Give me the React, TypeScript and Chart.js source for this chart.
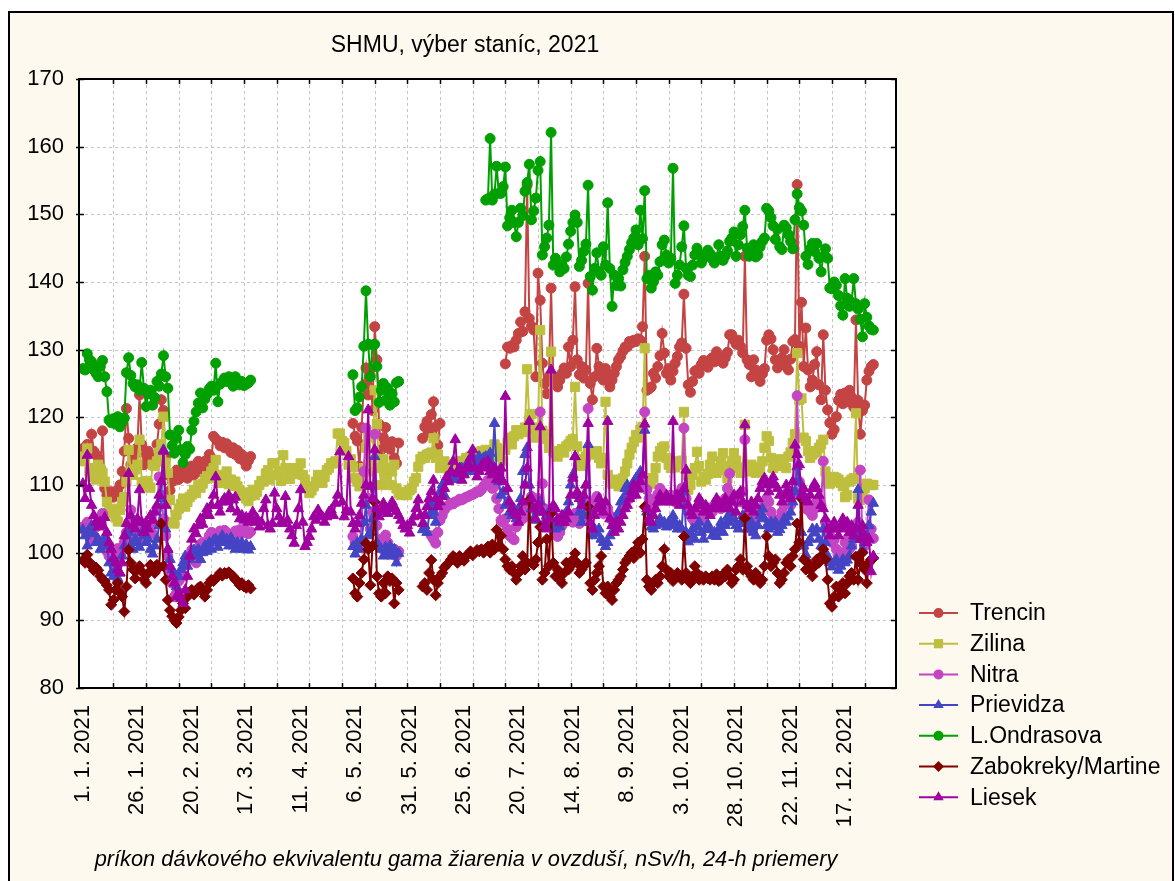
import React, { useEffect, useRef } from 'react';
import { Chart, registerables } from 'chart.js';

Chart.register(...registerables);

const FONT = '"Liberation Sans", Arial, sans-serif';
const CREAM = '#fdf9ee';

const titleText = 'SHMU, výber staníc, 2021';
const axisTitle = 'príkon dávkového ekvivalentu gama žiarenia v ovzduší, nSv/h, 24-h priemery';

const seriesNames = ['Trencin', 'Zilina', 'Nitra', 'Prievidza', 'L.Ondrasova', 'Zabokreky/Martine', 'Liesek'];
const seriesColors = ['#c44444', '#bfbf3f', '#c444c4', '#4444c4', '#00a000', '#800000', '#a000a0'];
const seriesMarkers = ['circle', 'rect', 'circle', 'triangle', 'circle', 'rectRot', 'triangle'];
const seriesRadius = [5, 6.5, 5, 6, 5, 5.5, 6];

// x values are day-of-year offsets from 1. 1. 2021
const labelDays = [0, 25, 50, 75, 100, 125, 150, 175, 200, 225, 250, 275, 300, 325, 350];
const gridDays = [14, 29, 44, 59, 74, 89, 104, 119, 134, 149, 164, 179, 194, 209, 224, 239, 254, 269, 284, 299, 314, 329, 344, 359];
const yTicks = [80, 90, 100, 110, 120, 130, 140, 150, 160, 170];

// ---------- Trencin ----------
const trencinJan = [115.4,114.0,116.0,115.0,117.5,115.0,114.5,114.0,112.5,118.0,109.5,108.5,108.8,109.0,108.2,108.7,109.3,110.0,112.0,115.0,121.3,116.9,113.0,114.0,114.5,115.5,123.3,116.0,113.0,114.5,115.0,113.5,114.0,113.0,116.0,119.0,122.6,121.0,114.0,111.5,109.2,110.5,111.0,112.2,110.8,111.2,111.5,112.0,111.0,112.0,112.8,111.5,112.3,113.5,112.0,112.3,113.5,113.0,114.5,114.0,117.2,116.8,116.5,115.8,116.3,115.5,116.1,115.3,114.8,115.5,114.5,115.1,113.9,114.5,113.5,112.8,113.6,114.2];
const trencinMay = [119.1,117.2,116.5,112.8,118.5,124.8,127.3,123.3,127.1,121.0,133.4,128.5,119.0,115.2,117.0,118.5,116.0,115.3,116.4,114.0,113.2,116.2];
const trencinJun = [116.9,118.6,119.4,117.8,120.4,122.3,118.6,115.9,119.1];
const trencinJul = [127.9,130.4,130.2,130.6,130.4,131.4,132.4,134.1,132.7,135.6,154.3,134.6,133.5,132.9,126.0,141.3,137.3,128.0,125.0,123.5,126.0,139.1,126.0,125.5,124.5,125.5,126.5,127.3,126.5,130.4,127.5,131.4,139.3,128.5,126.3,127.5,125.8,127.0,139.8,125.0,122.6,126.0,130.2,127.5,126.8,125.5,127.2,126.3,124.5,125.5,126.5,127.5,128.5,129.0,129.8,130.4,130.4,131.2,131.0,131.4,131.2,131.6,131.4,133.4,143.8,124.0,124.2,124.5,126.5,125.8,127.5,129.1,132.4,129.5,126.5,127.2,125.5,126.8,128.0,129.0,130.4,131.0,138.2,130.2,124.8,123.7,125.3,126.8,127.0,126.5,127.8,128.4,127.6,127.4,128.5,128.8,128.2,129.7,129.0,128.3,128.0,128.8,129.6,132.2,132.2,131.4,130.8,131.4,130.5,129.5,143.8,128.5,127.8,126.0,128.5,127.0,126.0,125.3,126.4,127.2,131.4,132.2,131.6,130.0,128.5,127.3,127.8,128.8,130.0,127.5,127.0,128.6,131.2,131.5,154.4,130.5,137.0,127.5,133.2,127.0,124.5,125.5,127.8,129.7,124.8,122.6,132.2,124.0,121.1,119.2,117.5,118.2,120.1,122.5,123.4,122.0,123.6,122.3,124.0,123.0,121.5,134.4,122.5,117.5,121.0,121.8,125.5,126.8,127.5,127.8];

// ---------- Zilina ----------
const zilinaYear = [
114.2,113.5,115.4,112.0,111.2,112.5,110.8,113.0,112.4,111.8,110.5,
107.5,106.0,105.8,106.5,105.2,104.6,106.3,107.5,108.2,110.5,
115.2,112.0,111.5,112.3,113.0,116.7,110.4,109.8,110.6,110.2,
109.6,113.0,112.8,113.5,114.8,116.0,120.1,113.3,111.8,107.8,
104.5,104.3,105.6,106.5,107.2,108.0,106.8,107.5,108.2,108.6,
109.3,108.8,110.0,109.6,110.2,110.9,111.3,111.0,112.0,112.5,
113.7,111.5,110.8,110.3,110.9,112.0,110.1,110.8,109.9,110.5,
109.8,109.2,108.6,108.9,108.0,107.6,108.4,109.3,108.5,109.0,
110.0,110.6,110.5,111.7,112.2,110.8,113.2,113.2,111.5,112.0,
110.6,114.4,112.5,111.2,110.9,111.7,112.5,111.6,112.0,113.2,
111.5,110.8,109.6,108.8,109.2,109.8,110.5,111.5,110.8,110.3,
111.2,112.2,112.5,113.2,113.2,113.5,117.6,117.6,116.5,116.2,
115.0,113.0,113.8,112.6,111.0,110.5,109.8,111.0,112.5,115.5,
117.0,112.0,113.5,124.0,119.0,112.5,110.0,113.8,111.5,112.5,
110.0,112.0,113.0,109.5,108.8,108.5,108.7,109.0,108.5,109.2,
109.5,110.5,111.0,112.7,113.8,114.2,114.0,114.5,114.6,114.8,
116.9,114.0,114.5,112.5,113.0,113.5,112.8,112.2,113.0,112.5,
112.0,113.2,113.5,112.8,113.6,114.0,113.5,114.2,113.8,114.5,
114.0,114.8,115.0,114.2,115.2,114.8,115.0,114.4,116.0,115.5,
114.2,115.2,113.5,115.2,116.3,117.0,116.0,117.2,118.1,117.5,
118.0,117.8,118.5,127.1,119.5,120.5,118.2,117.0,118.5,132.9,
118.0,117.5,116.8,115.5,129.7,115.0,114.7,114.2,115.0,115.3,
114.8,115.7,116.0,116.5,116.8,124.5,115.7,113.5,112.8,113.8,
114.2,115.0,114.5,115.0,114.8,115.0,114.0,113.2,114.0,122.3,
111.5,110.5,110.2,110.8,110.4,109.8,110.0,111.0,112.0,113.2,
114.5,115.5,116.4,117.4,117.0,118.2,118.6,130.2,110.7,111.0,
110.2,111.0,112.5,114.2,115.0,115.5,115.7,114.0,113.0,112.5,
113.0,112.6,113.0,113.5,113.6,120.8,111.5,109.3,110.0,111.5,
112.5,114.9,112.8,110.5,111.2,110.8,111.6,113.0,114.2,112.5,
111.8,112.5,113.5,114.7,112.2,111.0,112.8,113.5,114.7,113.6,
112.5,111.8,112.6,118.9,112.5,112.0,113.0,112.6,111.8,112.0,
112.5,113.5,115.5,117.2,116.5,114.0,112.5,113.0,113.8,112.8,
113.2,113.8,112.5,114.2,114.8,116.2,117.5,129.5,122.6,122.8,
117.0,116.5,115.0,114.0,114.5,115.0,114.8,115.5,116.0,116.7,
112.0,110.8,110.2,110.5,111.2,111.0,110.8,110.3,109.8,108.2,
108.5,110.5,110.8,111.0,120.6,108.0,107.8,108.8,109.5,110.2,110.0,110.0,110.0];

// ---------- Nitra ----------
const nitraJan = [103.8,103.2,104.5,103.0,101.8,102.5,103.8,104.5,105.2,105.8,102.0,100.2,99.5,99.9,98.5,99.2,100.6,99.8,100.2,101.5,103.0,104.5,106.3,103.5,102.2,103.5,104.5,102.0,103.2,102.5,103.8,104.0,102.8,104.2,106.5,111.2,108.5,105.0,102.5,99.5,97.0,95.5,93.5,94.0,95.8,97.0,96.5,98.2,99.0,99.5,100.4,99.0,98.5,100.0,101.2,101.5,100.6,101.0,102.5,103.0,102.2,101.8,102.5,103.2,102.6,103.3,103.0,102.5,102.0,101.5,103.2,102.8,103.4,102.9,103.5,103.0,102.8,103.1];
const nitraMay = [102.4,101.5,100.8,101.0,104.5,112.0,118.4,108.0,103.5,106.0,117.5,104.0,101.0,102.0,100.5,102.6,101.5,100.2,99.8,100.5,99.5,100.2];
const nitraJun = [102.5,102.0,101.4,103.0,104.8,105.5,106.3,106.8,107.0,107.3,107.2,107.5,107.6,107.9,107.8,108.0,108.2,108.3,108.5,108.6,108.8,109.0,109.0,109.3,109.8,110.2,110.7,110.3,109.5,109.8,108.0,106.5,104.8,104.5,105.0,103.5,102.5,102.2,101.9,103.8,104.5,105.5,105.0,105.8,106.5,107.2,108.3,107.0,106.5,108.0,120.8,110.2,106.5,105.0,104.2,106.0,104.5,103.4,102.4,103.0,104.0,104.5,105.0,104.8,105.5,104.5,105.8,104.8,104.3,105.0,106.0,107.0,121.3,107.5,106.0,107.2,108.3,107.5,106.5,105.8,106.0,106.5,105.5,104.8,104.5,105.2,105.5,106.0,106.8,107.5,108.3,108.0,108.5,109.8,109.5,110.0,109.6,110.5,120.8,109.3,108.0,107.0,106.5,107.5,108.6,109.5,109.0,108.5,108.0,107.8,108.5,107.8,107.5,108.2,108.8,109.5,118.4,108.0,106.0,105.5,105.0,104.5,105.5,106.0,105.2,105.0,106.0,106.3,106.6,106.0,107.0,107.5,107.0,106.5,107.5,108.0,109.5,111.7,108.5,108.0,107.5,108.5,107.5,109.0,116.7,107.0,105.5,103.4,104.5,105.5,106.0,105.5,106.5,107.5,108.0,107.5,106.0,105.0,104.8,104.3,105.0,106.0,107.0,107.5,108.0,107.0,108.5,109.0,123.2,110.5,108.5,107.8,106.5,107.2,106.0,105.5,106.5,107.5,108.0,107.0,113.5,104.5,103.0,102.5,101.5,101.9,100.5,99.5,98.4,100.0,101.5,102.0,100.5,101.0,102.5,103.0,104.5,112.2,102.0,101.0,103.5,107.8,103.5,102.1];

// ---------- Prievidza ----------
const prievidzaJan = [103.4,102.5,101.0,103.5,104.0,102.8,101.5,102.0,100.5,101.5,102.0,101.0,98.5,97.0,96.5,97.5,96.2,97.0,99.5,101.0,102.5,103.0,101.0,100.5,102.0,101.5,100.8,103.0,102.5,101.5,102.0,100.5,99.8,101.0,102.0,104.0,108.0,115.2,103.5,100.5,99.0,97.5,96.5,95.0,96.5,97.5,98.5,99.5,98.0,99.0,100.0,100.4,99.5,100.5,99.0,100.0,101.0,100.2,101.5,100.5,101.8,102.0,100.8,101.5,102.5,101.5,102.0,101.0,102.2,101.0,100.5,101.5,100.8,101.5,100.5,101.2,100.4,100.9];
const prievidzaMay = [100.9,99.8,101.5,100.5,102.0,104.5,107.0,102.5,103.0,105.0,114.2,101.5,100.9,100.5,99.5,100.8,99.9,101.0,99.5,100.5,98.5,99.9];
const prievidzaJun = [103.4,104.0,103.0,105.5,107.0,106.0,104.5,107.5,109.0,110.0,108.5,110.5,111.2,112.0,111.5,110.8,112.0,111.5,112.5,111.6,112.8,113.5,112.0,114.2,112.5,113.0,114.2,113.5,114.0,114.2,113.5,114.7,113.0,119.1,112.0,110.5,108.5,109.0,107.0,107.5,106.0,105.5,106.5,105.0,106.5,108.0,112.0,114.5,115.5,110.0,106.5,105.0,104.8,106.0,107.5,106.0,104.5,105.5,106.0,105.0,104.0,103.5,104.5,103.8,104.5,105.5,106.0,107.5,110.0,111.5,114.2,108.5,106.0,104.5,105.5,110.0,116.0,106.0,102.5,103.5,102.8,103.5,102.0,101.5,100.9,101.5,102.5,104.0,103.5,105.0,106.0,107.5,108.0,109.5,110.0,109.0,108.5,110.5,111.0,110.5,112.0,111.5,118.1,106.0,104.5,103.8,103.5,104.0,104.5,105.0,104.2,104.5,103.8,104.5,104.0,105.5,104.5,103.5,104.0,103.5,109.0,103.0,101.6,102.5,103.5,102.0,103.8,104.5,103.0,102.0,103.5,104.2,103.4,102.5,103.0,102.4,103.5,104.5,103.0,104.0,105.3,104.5,106.0,105.0,104.0,103.5,104.3,105.5,104.3,103.5,103.8,104.5,103.0,102.5,104.0,105.5,106.5,105.0,104.0,103.5,104.5,103.8,104.5,103.0,103.4,104.0,105.0,104.5,105.3,106.0,107.5,109.0,112.7,110.5,103.0,101.0,99.7,101.5,102.0,103.5,102.9,103.5,102.0,101.0,103.5,101.5,99.5,98.5,97.9,98.5,99.0,97.4,98.0,99.0,98.5,98.9,99.5,101.0,102.0,103.0,109.3,102.0,100.5,101.5,102.5,104.0,106.0,107.3];

// ---------- L.Ondrasova ----------
const ondrasovaJan = [127.2,127.0,129.4,128.5,128.2,127.0,126.5,126.0,127.5,128.4,126.0,123.8,119.6,119.2,119.8,119.0,120.1,118.6,119.3,119.9,126.6,128.8,126.2,125.0,124.5,124.8,124.0,128.1,124.3,121.6,123.5,124.0,121.8,122.9,125.3,124.6,126.4,129.1,126.0,124.3,117.4,115.8,114.7,116.9,118.1,115.2,113.3,114.5,115.7,115.3,118.1,119.4,120.8,122.1,123.6,121.4,122.7,123.4,124.2,124.6,124.0,128.0,122.3,124.9,125.3,125.8,125.3,126.0,125.1,124.6,126.0,125.4,124.8,125.3,124.7,124.9,125.1,125.5];
const ondrasovaMay = [126.3,121.0,121.4,123.0,124.5,130.5,138.7,130.8,126.0,130.7,130.8,127.5,122.2,124.0,125.0,122.5,124.3,121.8,123.5,122.3,125.1,125.3];
const ondrasovaJul = [152.1,152.3,161.2,152.1,153.0,157.1,153.1,153.1,154.1,157.0,148.3,149.5,150.6,148.8,146.7,148.8,150.9,149.8,153.4,154.7,157.4,149.2,150.5,152.4,156.5,157.8,144.0,145.2,146.5,148.4,162.1,142.5,143.5,142.8,141.5,142.5,142.0,143.7,145.6,147.5,148.8,149.9,148.8,142.3,143.2,144.5,145.6,154.3,140.8,138.8,142.0,144.3,141.5,141.0,145.2,142.5,151.7,142.0,136.4,141.0,139.5,140.5,139.4,141.8,142.9,143.8,144.8,145.8,146.5,147.7,145.5,150.6,146.4,153.5,140.5,141.0,139.1,140.0,141.5,141.0,143.0,145.5,146.2,144.0,142.8,143.5,156.8,139.8,141.0,142.5,145.2,148.3,142.0,141.0,140.8,142.5,144.0,145.0,144.2,142.8,143.5,144.0,144.7,144.2,143.4,142.8,143.6,145.5,143.8,143.2,143.9,144.6,146.0,146.5,147.4,143.8,145.5,147.0,148.2,150.6,145.0,143.8,144.2,145.5,143.7,144.0,145.2,146.0,146.5,150.9,150.5,149.5,148.3,146.3,147.8,145.2,144.8,148.4,148.0,147.0,146.0,144.9,149.2,153.0,151.0,150.5,148.4,143.8,142.6,144.9,145.7,144.5,145.7,143.5,141.5,143.8,144.9,143.5,139.1,139.0,140.0,139.5,138.0,136.5,135.1,140.5,137.6,136.4,137.0,140.5,136.8,136.0,134.5,131.9,136.8,134.8,133.5,133.0,132.9];

// ---------- Zabokreky/Martine ----------
const zabokrekyJan = [98.9,98.5,99.7,98.6,98.0,97.4,97.8,97.4,96.5,96.0,95.8,95.2,94.5,92.3,93.0,94.5,95.5,94.2,93.5,91.3,95.0,100.4,98.5,97.5,96.2,97.5,98.0,97.2,96.0,95.5,97.0,98.2,97.5,97.0,98.2,97.8,104.3,98.0,96.0,93.0,91.5,90.6,90.0,89.6,90.5,91.5,92.5,91.8,93.5,94.0,94.5,93.8,94.2,94.8,95.0,94.3,93.5,94.5,95.5,96.0,95.8,96.2,96.5,97.0,96.6,97.0,96.9,97.1,96.8,96.5,96.0,95.8,95.2,95.5,95.0,94.8,95.2,94.7];
const zabokrekyMay = [96.2,94.0,93.5,95.5,97.0,99.0,101.4,100.5,95.2,101.0,107.5,96.5,94.0,93.5,95.5,94.0,96.5,95.8,96.2,92.5,95.5,94.5];
const zabokrekyJun = [95.0,95.5,94.5,97.0,98.9,96.0,93.7,95.5,96.5,97.0,97.8,98.2,98.5,99.0,99.5,99.2,98.5,99.5,99.0,98.8,99.5,99.8,100.2,99.6,100.0,100.4,100.2,100.5,100.0,100.6,100.9,100.0,101.2,100.5,103.4,101.0,102.5,100.5,99.0,98.0,97.5,98.0,97.0,96.0,97.0,98.0,99.5,97.5,98.5,107.8,98.5,98.2,99.0,101.5,103.8,96.0,97.0,102.0,98.0,105.8,98.5,96.5,97.5,96.0,95.5,97.0,98.5,97.5,98.0,99.0,99.9,98.5,97.0,97.5,98.0,98.5,106.8,95.5,94.5,96.0,97.0,98.0,99.5,95.0,94.0,95.0,93.5,93.0,94.5,95.5,96.0,96.5,97.5,98.5,99.0,99.5,100.0,99.2,100.5,101.5,100.0,102.0,106.8,96.0,95.0,94.5,95.5,96.0,95.5,96.5,98.0,100.5,97.5,96.5,97.0,95.8,96.2,97.0,96.5,96.0,102.4,97.0,96.0,95.5,96.5,98.0,97.0,96.0,96.5,96.0,96.5,96.2,96.0,96.5,96.0,96.8,95.8,96.0,96.8,96.5,97.5,96.5,95.5,96.0,97.5,98.0,99.0,97.5,105.1,98.0,97.0,96.5,96.0,97.0,96.5,95.5,96.0,98.0,102.4,99.5,98.0,98.5,99.0,97.0,95.5,96.0,97.0,98.5,99.0,98.0,99.5,100.5,104.3,101.5,108.0,99.0,97.5,98.5,97.5,96.5,98.0,99.0,98.5,99.5,100.5,99.0,96.0,92.5,92.0,93.5,95.0,93.5,94.5,95.5,94.0,95.5,96.5,97.0,96.0,99.4,96.0,98.5,100.0,97.5,95.5,98.5,99.0,99.2];

// ---------- Liesek ----------
const liesekYear = [
110.2,108.0,114.4,109.5,107.0,105.5,104.5,103.8,104.5,104.0,
105.2,103.0,101.5,100.5,99.2,98.5,97.5,97.0,98.5,102.5,
104.3,111.7,105.5,104.0,103.5,105.0,109.3,104.5,103.0,104.5,
103.5,105.5,104.8,106.0,107.0,108.5,110.5,115.0,107.0,100.5,
98.0,96.5,95.5,93.5,94.0,93.2,92.5,94.5,96.5,99.5,
102.0,103.5,102.8,104.0,105.0,104.2,105.5,106.5,105.5,107.0,
108.5,111.2,107.0,106.0,107.5,108.0,107.5,108.5,106.5,107.8,
108.2,106.0,105.0,105.5,104.8,105.2,104.5,105.0,106.0,104.5,
105.0,103.8,104.5,106.5,107.8,104.0,103.5,104.3,108.8,106.5,
105.3,104.5,104.3,108.3,104.8,103.5,102.5,101.4,104.0,106.5,
109.3,104.5,100.9,101.5,102.4,103.5,105.3,104.8,106.3,105.5,
105.3,104.5,105.3,106.0,106.3,105.5,107.3,108.5,114.9,107.5,
105.3,106.3,114.2,106.0,104.3,103.5,104.3,105.5,107.3,108.5,
110.0,121.1,109.8,108.0,115.2,106.5,105.3,106.0,107.3,106.5,
105.8,106.5,107.5,106.8,106.1,105.5,104.8,104.0,103.5,104.0,
102.9,104.5,105.3,106.5,107.8,105.5,104.3,105.5,106.8,108.0,
109.0,110.7,108.0,106.8,107.5,108.3,109.5,111.2,110.5,112.0,
113.5,116.7,111.7,112.5,110.7,111.5,112.5,113.0,114.0,115.2,
112.5,111.2,112.0,112.8,113.2,112.5,113.5,112.0,111.5,112.5,
110.8,111.5,112.5,110.5,123.1,109.5,107.5,106.5,106.0,105.5,
104.5,106.0,107.5,110.0,112.5,119.4,108.0,106.5,105.0,107.0,
118.6,106.0,104.0,103.5,105.0,127.0,107.0,106.5,105.0,104.5,
105.5,104.5,105.0,106.0,108.5,111.0,114.2,109.0,108.0,107.0,
108.5,110.0,119.1,104.5,103.5,105.5,106.5,108.0,107.0,106.0,
107.5,119.4,105.0,104.0,103.0,104.5,103.5,104.5,105.5,106.5,
107.0,108.0,109.0,110.0,108.5,109.5,110.5,111.5,119.0,106.5,
105.0,104.5,105.5,106.5,107.5,108.5,108.0,107.5,108.5,107.5,
108.0,119.4,107.5,108.5,107.0,108.0,109.5,112.2,107.0,106.0,
105.5,106.5,107.0,108.0,107.5,106.0,107.0,106.5,105.5,106.5,
107.0,108.0,107.5,106.5,107.0,108.0,107.5,106.5,107.5,108.5,
106.0,108.5,109.0,107.5,118.9,107.0,106.5,107.5,106.0,107.0,
108.0,109.5,110.5,111.0,110.0,109.0,110.5,111.2,110.0,109.5,
108.5,107.5,108.5,110.0,109.0,108.0,110.5,115.9,114.5,113.0,
108.5,109.5,108.0,107.5,108.5,109.5,110.2,109.5,108.5,107.0,
106.5,105.0,103.5,102.5,103.5,104.5,103.5,102.5,104.0,105.0,
103.5,104.5,103.0,104.0,102.5,103.5,107.0,102.0,104.0,102.5,101.5,102.0,97.2,99.5];

// segments: [first day, values]
const seriesSegments: [number, number[]][][] = [
  [[0, trencinJan], [124, trencinMay], [156, trencinJun], [194, trencinJul]],
  [[0, zilinaYear]],
  [[0, nitraJan], [124, nitraMay], [160, nitraJun]],
  [[0, prievidzaJan], [124, prievidzaMay], [156, prievidzaJun]],
  [[0, ondrasovaJan], [124, ondrasovaMay], [185, ondrasovaJul]],
  [[0, zabokrekyJan], [124, zabokrekyMay], [156, zabokrekyJun]],
  [[0, liesekYear]],
];

function toPoints(segs: [number, number[]][]) {
  const pts: { x: number; y: number | null }[] = [];
  segs.forEach(([start, vals], si) => {
    if (si > 0) pts.push({ x: start - 0.5, y: null });
    vals.forEach((v, i) => pts.push({ x: start + i, y: v }));
  });
  return pts;
}

function dayLabel(v: number) {
  const d = new Date(Date.UTC(2021, 0, 1 + v));
  return `${d.getUTCDate()}. ${d.getUTCMonth() + 1}. 2021`;
}

function drawMarker(ctx: CanvasRenderingContext2D, kind: string, x: number, y: number, r: number) {
  ctx.beginPath();
  if (kind === 'circle') {
    ctx.arc(x, y, r, 0, Math.PI * 2);
  } else if (kind === 'rect') {
    const s = r * Math.SQRT1_2;
    ctx.rect(x - s, y - s, 2 * s, 2 * s);
  } else if (kind === 'triangle') {
    let a = 0;
    ctx.moveTo(x + Math.sin(a) * r, y - Math.cos(a) * r);
    a += (2 * Math.PI) / 3;
    ctx.lineTo(x + Math.sin(a) * r, y - Math.cos(a) * r);
    a += (2 * Math.PI) / 3;
    ctx.lineTo(x + Math.sin(a) * r, y - Math.cos(a) * r);
    ctx.closePath();
  } else {
    ctx.moveTo(x - r, y);
    ctx.lineTo(x, y - r);
    ctx.lineTo(x + r, y);
    ctx.lineTo(x, y + r);
    ctx.closePath();
  }
  ctx.fill();
}

const decor = {
  id: 'decor',
  beforeDraw(chart: any) {
    const { ctx, chartArea: a, scales } = chart;
    const W = chart.width;
    const H = chart.height;
    ctx.save();
    ctx.fillStyle = '#ffffff';
    ctx.fillRect(0, 0, W, H);
    ctx.fillStyle = '#000000';
    ctx.fillRect(8, 11, 1166, H - 11);
    ctx.fillStyle = CREAM;
    ctx.fillRect(10, 13, 1162, H - 13);
    ctx.fillStyle = '#ffffff';
    ctx.fillRect(a.left, a.top, a.right - a.left, a.bottom - a.top);
    ctx.strokeStyle = '#c4c4c4';
    ctx.lineWidth = 1;
    ctx.setLineDash([3, 3]);
    ctx.beginPath();
    gridDays.forEach((d) => {
      const x = Math.round(scales.x.getPixelForValue(d)) + 0.5;
      ctx.moveTo(x, a.top);
      ctx.lineTo(x, a.bottom);
    });
    yTicks.forEach((v) => {
      const y = Math.round(scales.y.getPixelForValue(v)) + 0.5;
      ctx.moveTo(a.left, y);
      ctx.lineTo(a.right, y);
    });
    ctx.stroke();
    ctx.restore();
  },
  afterDraw(chart: any) {
    const { ctx, chartArea: a, scales } = chart;
    ctx.save();
    ctx.strokeStyle = '#000000';
    ctx.lineWidth = 2;
    ctx.strokeRect(a.left, a.top, a.right - a.left, a.bottom - a.top);
    ctx.lineWidth = 1.5;
    ctx.beginPath();
    gridDays.forEach((d) => {
      const x = Math.round(scales.x.getPixelForValue(d)) + 0.5;
      ctx.moveTo(x, a.top);
      ctx.lineTo(x, a.top + 5);
      ctx.moveTo(x, a.bottom);
      ctx.lineTo(x, a.bottom - 5);
    });
    yTicks.forEach((v) => {
      const y = Math.round(scales.y.getPixelForValue(v)) + 0.5;
      ctx.moveTo(a.left - 3, y);
      ctx.lineTo(a.left + 5, y);
      ctx.moveTo(a.right - 5, y);
      ctx.lineTo(a.right, y);
    });
    ctx.stroke();

    ctx.fillStyle = '#000000';
    ctx.textAlign = 'center';
    ctx.textBaseline = 'alphabetic';
    ctx.font = `23px ${FONT}`;
    ctx.fillText(titleText, 465, 52);

    ctx.font = `italic 21.8px ${FONT}`;
    ctx.fillText(axisTitle, 466, 866);

    ctx.textAlign = 'left';
    ctx.textBaseline = 'middle';
    ctx.font = `23px ${FONT}`;
    seriesNames.forEach((name, i) => {
      const y = 613 + i * 30.7;
      ctx.strokeStyle = seriesColors[i];
      ctx.lineWidth = 2;
      ctx.beginPath();
      ctx.moveTo(919, y);
      ctx.lineTo(958, y);
      ctx.stroke();
      ctx.fillStyle = seriesColors[i];
      drawMarker(ctx, seriesMarkers[i], 938.5, y, seriesRadius[i]);
      ctx.fillStyle = '#000000';
      ctx.fillText(name, 970, y + 1);
    });
    ctx.restore();
  },
};

export default function App() {
  const ref = useRef<HTMLCanvasElement | null>(null);

  useEffect(() => {
    document.body.style.margin = '0';
    document.body.style.overflow = 'hidden';
    const canvas = ref.current;
    if (!canvas) return;
    const datasets = seriesNames.map((name, i) => ({
      label: name,
      data: toPoints(seriesSegments[i]),
      borderColor: seriesColors[i],
      backgroundColor: seriesColors[i],
      pointBackgroundColor: seriesColors[i],
      pointBorderColor: seriesColors[i],
      pointStyle: seriesMarkers[i] as any,
      pointRadius: seriesRadius[i],
      pointBorderWidth: 1,
      borderWidth: 2,
      spanGaps: false,
      tension: 0,
      order: 7 - i,
    }));

    const chart = new Chart(canvas, {
      type: 'line',
      data: { datasets },
      plugins: [decor],
      options: {
        animation: false,
        responsive: false,
        devicePixelRatio: 1,
        layout: { padding: { left: 0, top: 79, right: 279, bottom: 43 } },
        plugins: { legend: { display: false }, tooltip: { enabled: false }, title: { display: false } },
        scales: {
          x: {
            type: 'linear',
            min: -1.8,
            max: 373.4,
            grid: { display: false, drawTicks: false },
            border: { display: false },
            afterBuildTicks: (scale: any) => {
              scale.ticks = labelDays.map((v) => ({ value: v }));
            },
            afterFit: (scale: any) => {
              scale.height = 150;
            },
            ticks: {
              autoSkip: false,
              minRotation: 90,
              maxRotation: 90,
              padding: 17,
              color: '#000000',
              font: { family: FONT, size: 22 },
              callback: (v: any) => dayLabel(Number(v)),
            },
          },
          y: {
            type: 'linear',
            min: 80,
            max: 170,
            grid: { display: false, drawTicks: false },
            border: { display: false },
            afterFit: (scale: any) => {
              scale.width = 79;
            },
            ticks: {
              stepSize: 10,
              padding: 15,
              color: '#000000',
              font: { family: FONT, size: 22 },
            },
          },
        },
      },
    });
    return () => chart.destroy();
  }, []);

  return <canvas ref={ref} width={1175} height={881} style={{ display: 'block' }} />;
}
